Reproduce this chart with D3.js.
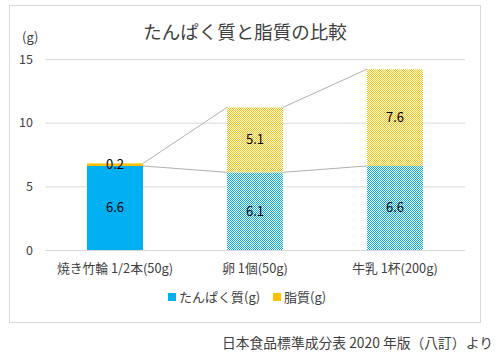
<!DOCTYPE html>
<html>
<head>
<meta charset="utf-8">
<script src="https://cdn.jsdelivr.net/npm/d3@7"></script>
<style>
  body { margin: 0; background: #fff; }
  text { font-family: "Noto Sans CJK JP", "Noto Sans", sans-serif; fill: #404040; }
</style>
</head>
<body>
<svg id="chart" width="498" height="361"></svg>
<script>
// data
const foods = ["焼き竹輪 1/2本(50g)", "卵 1個(50g)", "牛乳 1杯(200g)"];
const protein = [6.6, 6.1, 6.6];
const fat = [0.2, 5.1, 7.6];
const seriesNames = ["たんぱく質(g)", "脂質(g)"];
const yTicks = [0, 5, 10, 15];

const svg = d3.select("#chart");
const colors = ["#00b0f0", "#ffc000"];

// checker patterns for the dithered bars
const defs = svg.append("defs");
colors.forEach((c, i) => {
    const p = defs.append("pattern")
        .attr("id", "chk" + i)
        .attr("width", 2).attr("height", 2)
        .attr("patternUnits", "userSpaceOnUse");
    p.append("rect").attr("width", 2).attr("height", 2).attr("fill", "#fff");
    p.append("rect").attr("width", 1).attr("height", 1).attr("fill", c);
    p.append("rect").attr("x", 1).attr("y", 1).attr("width", 1).attr("height", 1).attr("fill", c);
});

// chart border
svg.append("rect")
    .attr("x", 9.5).attr("y", 5.5)
    .attr("width", 471).attr("height", 317)
    .attr("fill", "none").attr("stroke", "#d9d9d9");

// title
svg.append("text")
    .attr("x", 245).attr("y", 39)
    .attr("text-anchor", "middle")
    .style("font-size", "18.5px")
    .text("たんぱく質と脂質の比較");

svg.append("text")
    .attr("x", 22).attr("y", 42)
    .style("font-size", "13px")
    .text("(g)");

// scales
const x = d3.scaleBand().domain(foods).range([45, 465]).paddingInner(0.6).paddingOuter(0.3);
const y = d3.scaleLinear().domain([0, 15]).range([250, 59]);

// gridlines
const grid = svg.append("g")
    .attr("transform", "translate(45,0)")
    .call(d3.axisLeft(y).tickValues(yTicks).tickSize(-420).tickFormat(""));
grid.select(".domain").remove();
grid.selectAll("line").attr("stroke", "#d9d9d9");

// y axis labels
const yAxis = svg.append("g")
    .attr("transform", "translate(45,0)")
    .call(d3.axisLeft(y).tickValues(yTicks).tickSize(0).tickPadding(12));
yAxis.select(".domain").remove();
yAxis.selectAll("text").style("font-size", "12.5px").attr("fill", "#404040");

// x axis labels
const xAxis = svg.append("g")
    .attr("transform", "translate(0,250)")
    .call(d3.axisBottom(x).tickSize(0).tickPadding(14));
xAxis.select(".domain").remove();
xAxis.selectAll("text").style("font-size", "12.8px").attr("fill", "#404040");

// stacked data
const rows = foods.map((f, i) => ({food: f, idx: i, p0: 0, p1: protein[i], f0: protein[i], f1: protein[i] + fat[i]}));

// series lines between bars
const bw = x.bandwidth();
for (let i = 0; i < rows.length - 1; i++) {
    const a = rows[i], b = rows[i + 1];
    [[a.p1, b.p1], [a.f1, b.f1]].forEach(([v1, v2]) => {
        svg.append("line")
            .attr("x1", x(a.food) + bw).attr("y1", y(v1))
            .attr("x2", x(b.food)).attr("y2", y(v2))
            .attr("stroke", "#b0b0b0").attr("stroke-width", 1);
    });
}

const fillFor = (s, i) => i === 0 ? colors[s] : `url(#chk${s})`;

svg.selectAll("rect.protein").data(rows).join("rect")
    .attr("class", "protein")
    .attr("x", d => x(d.food)).attr("width", bw)
    .attr("y", d => y(d.p1)).attr("height", d => y(d.p0) - y(d.p1))
    .attr("fill", d => fillFor(0, d.idx));

svg.selectAll("rect.fat").data(rows).join("rect")
    .attr("class", "fat")
    .attr("x", d => x(d.food)).attr("width", bw)
    .attr("y", d => y(d.f1)).attr("height", d => y(d.f0) - y(d.f1))
    .attr("fill", d => fillFor(1, d.idx));

// data labels
svg.selectAll("text.plab").data(rows).join("text")
    .attr("class", "plab")
    .attr("x", d => x(d.food) + bw / 2)
    .attr("y", d => y((d.p0 + d.p1) / 2) + 4.5)
    .attr("text-anchor", "middle")
    .style("font-size", "13px")
    .style("fill", "#000")
    .text(d => protein[d.idx].toFixed(1));

svg.selectAll("text.flab").data(rows).join("text")
    .attr("class", "flab")
    .attr("x", d => x(d.food) + bw / 2)
    .attr("y", d => y((d.f0 + d.f1) / 2) + 4.5)
    .attr("text-anchor", "middle")
    .style("font-size", "13px")
    .style("fill", "#000")
    .text(d => fat[d.idx].toFixed(1));

// legend
const legendX = [168, 273];
seriesNames.forEach((n, i) => {
    const g = svg.append("g").attr("transform", `translate(${legendX[i]},293)`);
    g.append("rect").attr("width", 8).attr("height", 8).attr("fill", colors[i]);
    g.append("text").attr("x", 11).attr("y", 9).style("font-size", "13px").text(n);
});

// source note
svg.append("text")
    .attr("x", 493).attr("y", 348)
    .attr("text-anchor", "end")
    .style("font-size", "13.8px")
    .text("日本食品標準成分表 2020 年版（八訂）より");
</script>
</body>
</html>
